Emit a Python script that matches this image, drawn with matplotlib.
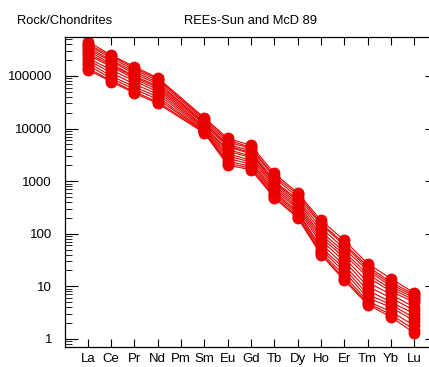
import numpy as np
import matplotlib
matplotlib.use("Agg")
import matplotlib.pyplot as plt
from matplotlib.ticker import LogLocator, NullFormatter, FixedLocator

plt.rcParams['font.family'] = ['Liberation Sans', 'DejaVu Sans']

# x axis labels (Pm has no data)
labels = ["La", "Ce", "Pr", "Nd", "Pm", "Sm", "Eu", "Gd", "Tb", "Dy", "Ho", "Er", "Tm", "Yb", "Lu"]
elements = ["La", "Ce", "Pr", "Nd", "Sm", "Eu", "Gd", "Tb", "Dy", "Ho", "Er", "Tm", "Yb", "Lu"]

# chondrite-normalised values, one list per sample
s1 = [450000, 250000, 150000, 92000, 16000, 6500, 4800, 1400, 600, 180, 75, 27, 14, 7.5]
s2 = [400000, 240000, 140000, 88000, 15000, 6000, 4400, 1250, 560, 160, 65, 24, 12, 7.0]
s3 = [380000, 220000, 130000, 82000, 14000, 5500, 4200, 1150, 500, 150, 60, 22, 11, 6.5]
s4 = [350000, 200000, 120000, 75000, 13000, 5000, 3800, 1000, 450, 130, 52, 20, 10, 6.0]
s5 = [320000, 190000, 110000, 70000, 12500, 4700, 3500, 950, 420, 110, 45, 17, 9, 5.5]
s6 = [300000, 170000, 100000, 64000, 12000, 4500, 3300, 900, 380, 95, 40, 15, 8, 5.0]
s7 = [270000, 160000, 95000, 60000, 11000, 4000, 3000, 820, 350, 85, 35, 12, 7, 4.0]
s8 = [250000, 150000, 88000, 55000, 10500, 3700, 2800, 750, 320, 75, 30, 10, 6, 3.5]
s9 = [220000, 130000, 80000, 50000, 10000, 3300, 2500, 680, 300, 65, 25, 8.5, 5, 3.0]
s10 = [200000, 115000, 70000, 45000, 9500, 3000, 2300, 620, 270, 55, 22, 7, 4.5, 2.5]
s11 = [180000, 100000, 62000, 40000, 9000, 2700, 2100, 580, 250, 50, 19, 6, 4, 2.2]
s12 = [160000, 90000, 56000, 36000, 8800, 2400, 1900, 540, 230, 45, 16, 5.2, 3.3, 1.8]
s13 = [140000, 82000, 50000, 32000, 8500, 2200, 1750, 500, 210, 42, 14, 4.8, 2.9, 1.5]
s14 = [130000, 78000, 47000, 30000, 8200, 2000, 1650, 480, 200, 40, 13, 4.5, 2.6, 1.3]
samples = [s1, s2, s3, s4, s5, s6, s7, s8, s9, s10, s11, s12, s13, s14]

ytick_vals = [1, 10, 100, 1000, 10000, 100000]

fig = plt.figure(figsize=(4.29, 3.67), dpi=100)
# right spine sits just past the image edge, as in the original
ax = fig.add_axes([64.5 / 429, 20 / 367, 373 / 429, 310 / 367])

xpos = [labels.index(e) + 1 for e in elements]
for s in samples:
    ax.plot(xpos, s, color="#e60000", lw=0.8, marker="o", ms=8,
            mfc="#f00000", mec="#e00000", mew=0.5)

ax.set_yscale("log")
ax.set_ylim(0.7, 550000)
ax.set_xlim(0, 16)

ax.xaxis.set_major_locator(FixedLocator(range(1, 16)))
ax.set_xticklabels(labels, fontsize=9.5)
ax.yaxis.set_major_locator(FixedLocator(ytick_vals))
ax.set_yticklabels([str(v) for v in ytick_vals], fontsize=9.5)
ax.yaxis.set_minor_locator(LogLocator(base=10, subs=np.arange(2, 10)))
ax.yaxis.set_minor_formatter(NullFormatter())

ax.tick_params(axis="x", which="major", direction="in", length=6, width=0.8,
               top=True, bottom=True, pad=4)
ax.tick_params(axis="y", which="major", direction="in", length=9.5, width=0.8,
               left=True, right=True, pad=9)
ax.tick_params(axis="y", which="minor", direction="in", length=5, width=0.6,
               left=True, right=False)
for sp in ax.spines.values():
    sp.set_linewidth(0.9)

fig.text(17 / 429, 1 - 21 / 367, "Rock/Chondrites", fontsize=9.3, va="center", ha="left")
fig.text(250 / 429, 1 - 21 / 367, "REEs-Sun and McD 89", fontsize=9.3, va="center", ha="center")

fig.savefig("out.png", dpi=100)
